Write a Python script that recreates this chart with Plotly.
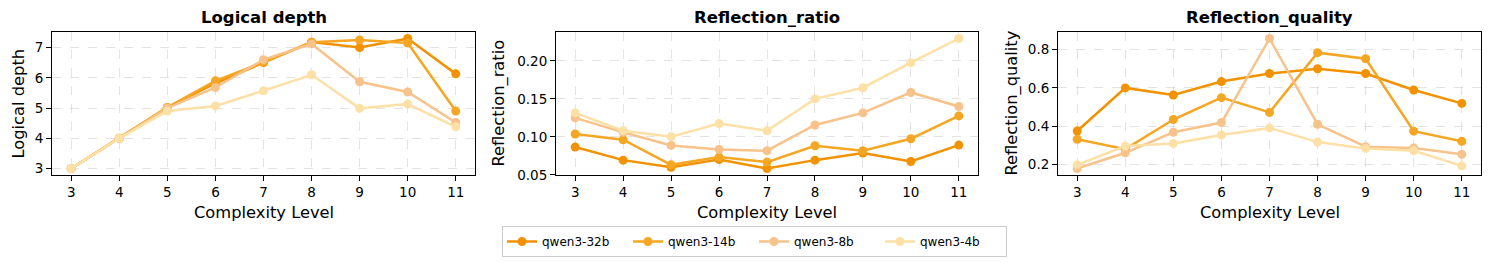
import plotly.graph_objects as go

levels = [3, 4, 5, 6, 7, 8, 9, 10, 11]
models = ["qwen3-32b", "qwen3-14b", "qwen3-8b", "qwen3-4b"]
colors = ["#F39200", "#F5A623", "#F8C28B", "#FDE0A6"]

logical_depth = {
    "qwen3-32b": [3.0, 4.0, 5.02, 5.82, 6.50, 7.18, 7.00, 7.30, 6.13],
    "qwen3-14b": [3.0, 4.0, 5.02, 5.90, 6.52, 7.18, 7.25, 7.15, 4.90],
    "qwen3-8b":  [3.0, 4.0, 5.00, 5.68, 6.60, 7.12, 5.87, 5.53, 4.52],
    "qwen3-4b":  [3.0, 4.0, 4.90, 5.07, 5.57, 6.10, 4.99, 5.13, 4.38],
}
reflection_ratio = {
    "qwen3-32b": [0.0866, 0.0694, 0.0601, 0.0703, 0.0584, 0.0694, 0.0787, 0.0676, 0.0892],
    "qwen3-14b": [0.1038, 0.0963, 0.0632, 0.0734, 0.0668, 0.0884, 0.0818, 0.0976, 0.1276],
    "qwen3-8b":  [0.1250, 0.1060, 0.0888, 0.0835, 0.0818, 0.1157, 0.1316, 0.1585, 0.1400],
    "qwen3-4b":  [0.1316, 0.1082, 0.1003, 0.1175, 0.1080, 0.1500, 0.1647, 0.1977, 0.2295],
}
reflection_quality = {
    "qwen3-32b": [0.375, 0.600, 0.563, 0.633, 0.675, 0.700, 0.675, 0.589, 0.519],
    "qwen3-14b": [0.332, 0.280, 0.435, 0.549, 0.472, 0.784, 0.752, 0.374, 0.321],
    "qwen3-8b":  [0.179, 0.261, 0.368, 0.419, 0.858, 0.410, 0.293, 0.286, 0.253],
    "qwen3-4b":  [0.198, 0.296, 0.310, 0.354, 0.391, 0.317, 0.284, 0.272, 0.193],
}

panels = [
    ("Logical depth", logical_depth, [1, 2, 3, 4, 5, 6, 7], (52, 475)),
    ("Reflection_ratio", reflection_ratio, [0.05, 0.10, 0.15, 0.20], (556, 978)),
    ("Reflection_quality", reflection_quality, [0.2, 0.4, 0.6, 0.8], (1058, 1481)),
]

W, H = 1489, 262
TOP, BOT = 32, 175
FONT = "DejaVu Sans"

fig = go.Figure()
layout = dict(
    width=W, height=H,
    margin=dict(l=0, r=0, t=0, b=0),
    paper_bgcolor="white", plot_bgcolor="white",
    font=dict(family=FONT, size=13.5, color="black"),
    showlegend=True,
)
annotations = []
ytitle_x = [18, 498, 1011]

for i, (title, data, yt, (x0, x1)) in enumerate(panels):
    xa = "x" if i == 0 else f"x{i+1}"
    ya = "y" if i == 0 else f"y{i+1}"
    for m, c in zip(models, colors):
        fig.add_trace(go.Scatter(
            x=levels, y=data[m], mode="lines+markers", name=m,
            line=dict(color=c, width=2.5), marker=dict(color=c, size=9),
            xaxis=xa, yaxis=ya, showlegend=(i == 0), legendgroup=m,
        ))
    allv = [v for m in models for v in data[m]]
    lo, hi = min(allv), max(allv)
    pad = (hi - lo) * 0.05
    axcommon = dict(
        showline=True, linecolor="black", linewidth=1, mirror=True,
        ticks="outside", ticklen=5, tickcolor="black", tickwidth=1,
        showgrid=True, gridcolor="rgba(176,176,176,0.35)", griddash="dash", gridwidth=1,
        zeroline=False, automargin=False,
        tickfont=dict(family=FONT, size=13.5, color="black"),
    )
    layout["xaxis" if i == 0 else f"xaxis{i+1}"] = dict(
        axcommon, domain=[x0 / W, x1 / W], range=[2.6, 11.4],
        tickmode="array", tickvals=levels, ticktext=[str(v) for v in levels],
        anchor=ya,
    )
    layout["yaxis" if i == 0 else f"yaxis{i+1}"] = dict(
        axcommon, domain=[(H - BOT) / H, (H - TOP) / H], range=[lo - pad, hi + pad],
        tickmode="array", tickvals=yt,
        ticktext=[f"{v:.2f}" if i == 1 else (f"{v:.1f}" if i == 2 else str(v)) for v in yt],
        anchor=xa,
    )
    cx = (x0 + x1) / 2 / W
    annotations.append(dict(text=f"<b>{title}</b>", x=cx, y=(H - 17.5) / H, xref="paper", yref="paper",
                            showarrow=False, xanchor="center", yanchor="middle",
                            font=dict(family=FONT, size=16.5, color="black")))
    annotations.append(dict(text="Complexity Level", x=cx, y=(H - 212) / H, xref="paper", yref="paper",
                            showarrow=False, xanchor="center", yanchor="middle",
                            font=dict(family=FONT, size=16.3, color="black")))
    annotations.append(dict(text=title, x=ytitle_x[i] / W, y=(H - (TOP + BOT) / 2) / H, xref="paper", yref="paper",
                            showarrow=False, xanchor="center", yanchor="middle", textangle=-90,
                            font=dict(family=FONT, size=16.3, color="black")))

layout["annotations"] = annotations
layout["legend"] = dict(
    orientation="h", x=502 / W, xanchor="left", y=(H - 226) / H, yanchor="top",
    bordercolor="#cccccc", borderwidth=1, bgcolor="white",
    font=dict(family=FONT, size=12, color="black"),
    entrywidth=81, entrywidthmode="pixels", itemwidth=30,
)
fig.update_layout(**layout)
fig.write_html("out.html", config={"displayModeBar": False},
               post_script="document.body.style.margin='0';document.body.style.padding='0';")
